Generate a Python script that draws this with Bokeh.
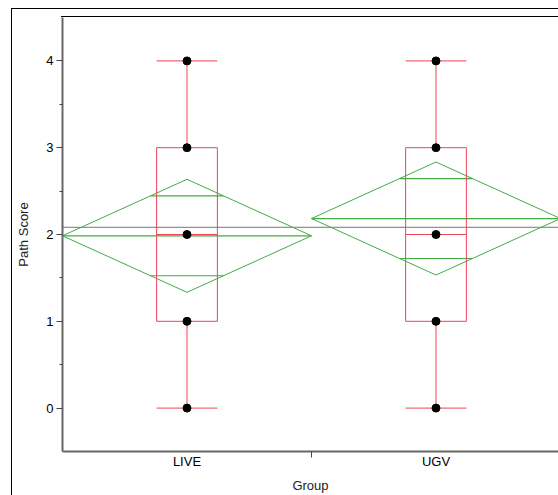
from bokeh.plotting import figure
from bokeh.models import FixedTicker, Range1d
from bokeh.embed import file_html
from bokeh.resources import INLINE
import math

# ---- data ----
groups = ["LIVE", "UGV"]
group_pos = [1, 2]
group_separators = [1.5]
live_points = [0, 1, 2, 3, 4]
ugv_points = [0, 1, 2, 3, 4]
box_q1 = [1, 1]
box_median = [2, 2]
box_q3 = [3, 3]
whisker_lo = [0, 0]
whisker_hi = [4, 4]
group_means = [1.985, 2.184]
ci_half_width = [0.651, 0.651]
grand_mean = 2.083
y_ticks = [0, 1, 2, 3, 4]
y_minor_ticks = [0.5, 1.5, 2.5, 3.5]

RED = "#EE4458"
GREEN = "#44AA44"
FONT = "Liberation Sans"

p = figure(width=558, height=495, output_backend="svg", toolbar_location=None,
           x_range=Range1d(0.5, 2.492), y_range=Range1d(-0.5, 4.5),
           min_border_left=62, min_border_top=17, min_border_bottom=43, min_border_right=0,
           border_fill_color=None, background_fill_color=None)
p.outline_line_color = None
p.grid.visible = False
# outer frame (left/top) and plot-frame top line drawn as page background lines
p.styles = {
    "background": ("linear-gradient(#000,#000) 11px 8px / 1px 100% no-repeat, "
                   "linear-gradient(#000,#000) 11px 8px / 100% 1px no-repeat, "
                   "linear-gradient(#000,#000) 61px 16px / 100% 1px no-repeat, white"),
    "overflow": "hidden",
}

half_box = 0.122
diam_half = 0.5
k = 1 / math.sqrt(2)

p.segment(x0=[0.5], x1=[2.5], y0=[grand_mean], y1=[grand_mean], line_color="#777777", line_width=1)

for c, m, h in zip(group_pos, group_means, ci_half_width):
    p.patch(x=[c - diam_half, c, c + diam_half, c, c - diam_half],
            y=[m, m + h, m, m - h, m], fill_color=None, line_color=GREEN, line_width=1)
    p.segment(x0=[c - diam_half], x1=[c + diam_half], y0=[m], y1=[m], line_color=GREEN, line_width=1.2)
    w = diam_half * (1 - k)
    p.segment(x0=[c - w, c - w], x1=[c + w, c + w], y0=[m + h * k, m - h * k], y1=[m + h * k, m - h * k],
              line_color=GREEN, line_width=1.2)

for c, lo, a, md, b, hi in zip(group_pos, whisker_lo, box_q1, box_median, box_q3, whisker_hi):
    p.quad(left=[c - half_box], right=[c + half_box], bottom=[a], top=[b],
           fill_color=None, line_color=RED, line_width=1)
    p.segment(x0=[c - half_box, c, c, c - half_box, c - half_box],
              x1=[c + half_box, c, c, c + half_box, c + half_box],
              y0=[md, b, lo, hi, lo], y1=[md, hi, a, hi, lo],
              line_color=RED, line_width=1)

p.scatter(x=[group_pos[0]] * len(live_points), y=live_points, size=8, color="black")
p.scatter(x=[group_pos[1]] * len(ugv_points), y=ugv_points, size=8, color="black")

xa = p.xaxis[0]
xa.ticker = FixedTicker(ticks=group_pos, minor_ticks=group_separators)
xa.major_label_overrides = {gp: g for gp, g in zip(group_pos, groups)}
xa.major_tick_out = 0
xa.major_tick_in = 0
xa.minor_tick_out = 6
xa.minor_tick_in = 0
xa.axis_label = "Group"

ya = p.yaxis[0]
ya.ticker = FixedTicker(ticks=y_ticks, minor_ticks=y_minor_ticks)
ya.major_tick_out = 6
ya.major_tick_in = 0
ya.minor_tick_out = 3
ya.minor_tick_in = 0
ya.axis_label = "Path Score"

for ax in (xa, ya):
    ax.axis_line_color = "#666666"
    ax.axis_line_width = 2
    ax.major_tick_line_color = "#444444"
    ax.minor_tick_line_color = "#444444"
    ax.major_label_text_font = FONT
    ax.major_label_text_font_size = "13px"
    ax.major_label_text_color = "black"
    ax.axis_label_text_font = FONT
    ax.axis_label_text_font_size = "13px"
    ax.axis_label_text_font_style = "normal"
    ax.axis_label_text_color = "#222222"

ya.major_label_standoff = 3
xa.major_label_standoff = -4
xa.axis_label_standoff = 6
ya.axis_label_standoff = 12

open("out.html", "w").write(file_html(p, INLINE))
